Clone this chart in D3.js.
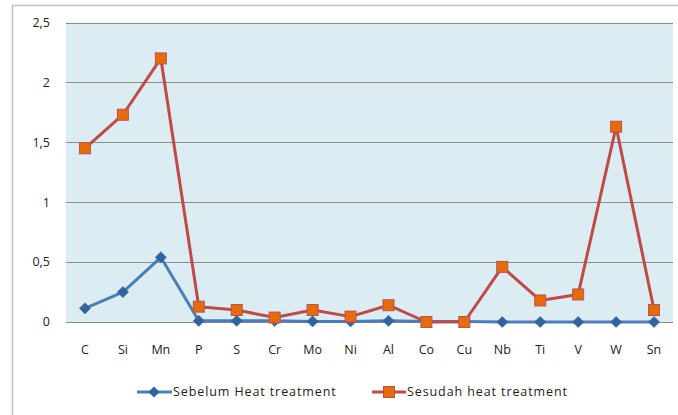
<!DOCTYPE HTML>
<html>
  <head>
    <title>Heat treatment</title>
    <style>
      body { margin: 0; background: #fff; }
      text { font-family: 'Open Sans', sans-serif; font-size: 12.5px; fill: #222; }
      .legend text { letter-spacing: 0.9px; }
    </style>
  </head>
  <body>
    <script src="https://cdn.jsdelivr.net/npm/d3@7"></script>
    <script>
      var elements = ['C','Si','Mn','P','S','Cr','Mo','Ni','Al','Co','Cu','Nb','Ti','V','W','Sn'];
      var sebelum = [0.114, 0.25, 0.54, 0.01, 0.01, 0.01, 0.005, 0.005, 0.01, 0.005, 0.005, 0, 0, 0, 0, 0];
      var sesudah = [1.45, 1.73, 2.2, 0.128, 0.1, 0.037, 0.1, 0.045, 0.14, 0, 0, 0.46, 0.18, 0.23, 1.63, 0.1];
      var yTicks = [0, 0.5, 1, 1.5, 2, 2.5];
      var seriesNames = ['Sebelum Heat treatment', 'Sesudah heat treatment'];

      var width = 678, height = 415;
      var margin = {left: 66, right: 5, top: 22.5, bottom: 93};

      var svg = d3.select('body').append('svg')
          .attr('width', width)
          .attr('height', height);

      // outer chart border
      svg.append('rect')
          .attr('x', 12.5).attr('y', 5.5)
          .attr('width', 670).attr('height', 420)
          .attr('fill', 'none')
          .attr('stroke', '#bfbfbf')
          .attr('stroke-width', 1.5);

      var x = d3.scaleBand()
          .domain(elements)
          .range([margin.left, width - margin.right]);

      var y = d3.scaleLinear()
          .domain([0, 2.5])
          .range([height - margin.bottom, margin.top]);

      svg.append('rect')
          .attr('x', margin.left)
          .attr('y', margin.top)
          .attr('width', width - margin.right - margin.left)
          .attr('height', y(0) - margin.top)
          .attr('fill', '#dbedf3');

      // gridlines
      svg.append('g')
        .selectAll('line')
        .data(yTicks)
        .enter().append('line')
          .attr('x1', margin.left)
          .attr('x2', width - margin.right)
          .attr('y1', function(d) { return Math.round(y(d)) + 0.5; })
          .attr('y2', function(d) { return Math.round(y(d)) + 0.5; })
          .attr('stroke', '#8c8c8c')
          .attr('stroke-width', 1);

      // y labels
      svg.append('g')
        .selectAll('text')
        .data(yTicks)
        .enter().append('text')
          .attr('x', 50)
          .attr('y', function(d) { return y(d); })
          .attr('dy', '.35em')
          .attr('text-anchor', 'end')
          .text(function(d) { return String(d).replace('.', ','); });

      // x labels
      svg.append('g')
        .selectAll('text')
        .data(elements)
        .enter().append('text')
          .attr('x', function(d) { return x(d) + x.bandwidth() / 2; })
          .attr('y', 350)
          .attr('dy', '.35em')
          .attr('text-anchor', 'middle')
          .text(function(d) { return d; });

      var cx = function(d, i) { return x(elements[i]) + x.bandwidth() / 2; };
      var line = d3.line()
          .x(cx)
          .y(function(d) { return y(d); });

      // Sebelum (blue)
      svg.append('path')
          .datum(sebelum)
          .attr('d', line)
          .attr('fill', 'none')
          .attr('stroke', '#4a7ebb')
          .attr('stroke-width', 3)
          .attr('stroke-linejoin', 'round');

      var diamond = d3.symbol().type(d3.symbolDiamond2).size(80);
      svg.append('g')
        .selectAll('path')
        .data(sebelum)
        .enter().append('path')
          .attr('d', diamond)
          .attr('transform', function(d, i) { return 'translate(' + cx(d, i) + ',' + y(d) + ')'; })
          .attr('fill', '#31639e')
          .attr('stroke', '#31639e')
          .attr('stroke-width', 0.5);

      // Sesudah (red)
      svg.append('path')
          .datum(sesudah)
          .attr('d', line)
          .attr('fill', 'none')
          .attr('stroke', '#be4b48')
          .attr('stroke-width', 3)
          .attr('stroke-linejoin', 'round');

      svg.append('g')
        .selectAll('rect')
        .data(sesudah)
        .enter().append('rect')
          .attr('x', function(d, i) { return cx(d, i) - 5.5; })
          .attr('y', function(d) { return y(d) - 5.5; })
          .attr('width', 11)
          .attr('height', 11)
          .attr('fill', '#e46c0a')
          .attr('stroke', '#c0504d')
          .attr('stroke-width', 1);

      // legend
      var legend = svg.append('g').attr('class', 'legend');
      legend.append('line')
          .attr('x1', 137).attr('x2', 172)
          .attr('y1', 392).attr('y2', 392)
          .attr('stroke', '#4a7ebb').attr('stroke-width', 3);
      legend.append('path')
          .attr('d', diamond)
          .attr('transform', 'translate(154,392)')
          .attr('fill', '#31639e');
      legend.append('text')
          .attr('x', 173).attr('y', 392).attr('dy', '.35em')
          .text(seriesNames[0]);

      legend.append('line')
          .attr('x1', 372).attr('x2', 406)
          .attr('y1', 392).attr('y2', 392)
          .attr('stroke', '#be4b48').attr('stroke-width', 3);
      legend.append('rect')
          .attr('x', 383.5).attr('y', 386.5)
          .attr('width', 11).attr('height', 11)
          .attr('fill', '#e46c0a')
          .attr('stroke', '#c0504d');
      legend.append('text')
          .attr('x', 407).attr('y', 392).attr('dy', '.35em')
          .text(seriesNames[1]);
    </script>
  </body>
</html>
